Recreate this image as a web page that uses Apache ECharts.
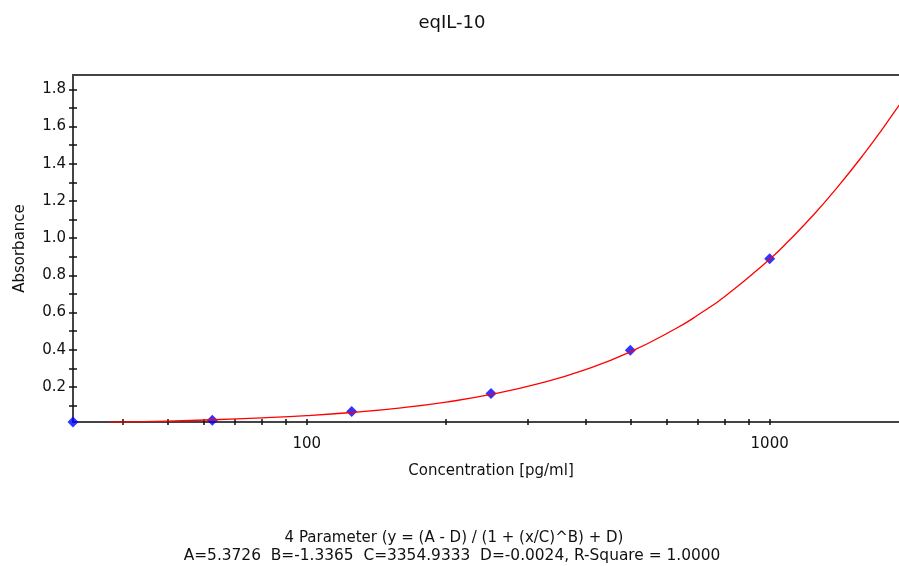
<!DOCTYPE html>
<html>
<head>
<meta charset="utf-8">
<script src="https://cdn.jsdelivr.net/npm/echarts@6/dist/echarts.min.js"></script>
<style>
html,body{margin:0;padding:0;background:#fff;overflow:hidden;}
#main{width:899px;height:566px;}
</style>
</head>
<body>
<div id="main"></div>
<script>
// Measured standards (blue diamonds)
const pointX = [31.25, 62.5, 125, 250, 500, 1000];
const pointY = [0.012, 0.022, 0.069, 0.165, 0.398, 0.889];
// Fitted curve, values
const curveX = [37.5, 40, 50, 62.5, 80, 100, 125, 160, 200, 250, 320, 400, 500, 630, 700, 800, 1000, 1100, 1250, 1400, 1600, 1750, 2000];
const curveY = [0.011, 0.012, 0.017, 0.024, 0.034, 0.046, 0.063, 0.088, 0.119, 0.160, 0.221, 0.294, 0.389, 0.517, 0.587, 0.687, 0.887, 0.986, 1.131, 1.273, 1.454, 1.585, 1.791];
// Ticks
const xTickValues = [40, 50, 60, 70, 80, 90, 100, 200, 300, 400, 500, 600, 700, 800, 900, 1000];
const xLabelValues = [100, 1000];
const yTickValues = [0.1, 0.2, 0.3, 0.4, 0.5, 0.6, 0.7, 0.8, 0.9, 1.0, 1.1, 1.2, 1.3, 1.4, 1.5, 1.6, 1.7, 1.8];
const yLabelValues = [0.2, 0.4, 0.6, 0.8, 1.0, 1.2, 1.4, 1.6, 1.8];
// Texts
const titleText = 'eqIL-10';
const xName = 'Concentration [pg/ml]';
const yName = 'Absorbance';
const footer1 = '4 Parameter (y = (A - D) / (1 + (x/C)^B) + D)';
const footer2 = 'A=5.3726  B=-1.3365  C=3354.9333  D=-0.0024, R-Square = 1.0000';

const FONT = 'DejaVu Sans';
const AX = '#444444';
const X_MIN = 31.25, X_MAX = 2000, Y_MIN = 0.012, Y_MAX = 1.877;

const chart = echarts.init(document.getElementById('main'), null, {renderer: 'canvas'});

function xAxisBase(extra) {
  return Object.assign({
    type: 'log', logBase: 10, min: X_MIN, max: X_MAX, position: 'bottom',
    splitLine: {show: false}, minorTick: {show: false}, minorSplitLine: {show: false}
  }, extra);
}
function yAxisBase(extra) {
  return Object.assign({
    type: 'value', min: Y_MIN, max: Y_MAX, position: 'left',
    splitLine: {show: false}
  }, extra);
}

chart.setOption({
  animation: false,
  backgroundColor: '#ffffff',
  title: {
    text: titleText, left: 447, top: 9, textAlign: 'center',
    textStyle: {fontFamily: FONT, fontSize: 18, fontWeight: 'normal', color: '#111'}
  },
  grid: {
    left: 73, top: 75, right: -10, bottom: 144, containLabel: false,
    outerBoundsMode: 'none',
    show: true, borderColor: AX, borderWidth: 2, backgroundColor: 'transparent'
  },
  xAxis: [
    xAxisBase({
      name: xName, nameLocation: 'middle', nameGap: 42,
      nameTextStyle: {fontFamily: FONT, fontSize: 15, color: '#111'},
      axisLine: {show: true, lineStyle: {color: AX, width: 2}},
      axisTick: {show: true, inside: false, length: 3, customValues: xTickValues, lineStyle: {color: '#111', width: 1.5}},
      axisLabel: {show: true, customValues: xLabelValues, margin: 15,
        formatter: v => String(Math.round(v)),
        fontFamily: FONT, fontSize: 15, color: '#111'}
    }),
    xAxisBase({
      axisLine: {show: false},
      axisTick: {show: true, inside: true, length: 3, customValues: xTickValues, lineStyle: {color: '#111', width: 1.5}},
      axisLabel: {show: false}
    })
  ],
  yAxis: [
    yAxisBase({
      name: yName, nameLocation: 'middle', nameGap: 45, nameRotate: 90,
      nameTextStyle: {fontFamily: FONT, fontSize: 15, color: '#111'},
      axisLine: {show: true, lineStyle: {color: AX, width: 2}},
      axisTick: {show: true, inside: false, length: 4, customValues: yTickValues, lineStyle: {color: '#111', width: 1.5}},
      axisLabel: {show: true, customValues: yLabelValues, margin: 7,
        formatter: v => Number(v).toFixed(1),
        fontFamily: FONT, fontSize: 15, color: '#111'}
    }),
    yAxisBase({
      axisLine: {show: false},
      axisTick: {show: true, inside: true, length: 4, customValues: yTickValues, lineStyle: {color: '#111', width: 1.5}},
      axisLabel: {show: false}
    })
  ],
  series: [
    {
      type: 'scatter', xAxisIndex: 0, yAxisIndex: 0,
      data: pointX.map((x, i) => [x, pointY[i]]),
      symbol: 'diamond', symbolSize: 11, clip: false,
      itemStyle: {color: '#0000ff'}, z: 3
    },
    {
      type: 'line', xAxisIndex: 0, yAxisIndex: 0,
      data: curveX.map((x, i) => [x, curveY[i]]),
      showSymbol: false, smooth: true, clip: true,
      lineStyle: {color: '#ff0000', width: 1.3}, z: 4
    }
  ],
  graphic: [
    {type: 'text', x: 454, y: 538, style: {text: footer1, fontFamily: FONT, fontSize: 15, fill: '#111', textAlign: 'center', textVerticalAlign: 'middle'}},
    {type: 'text', x: 452, y: 556, style: {text: footer2, fontFamily: FONT, fontSize: 15.4, fill: '#111', textAlign: 'center', textVerticalAlign: 'middle'}}
  ]
});
</script>
</body>
</html>
